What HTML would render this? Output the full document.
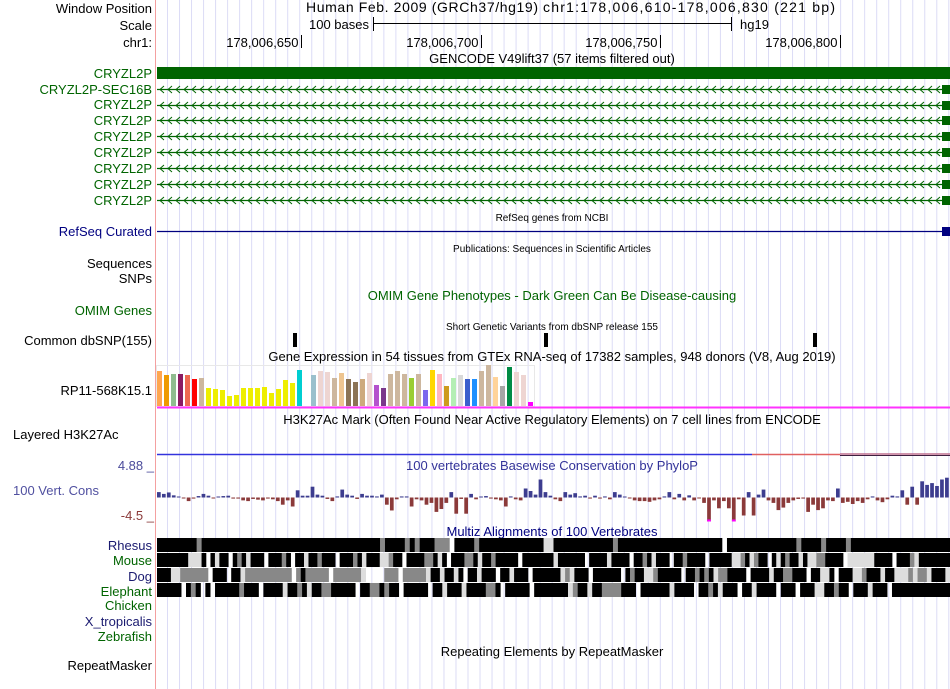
<!DOCTYPE html>
<html><head><meta charset="utf-8"><title>UCSC Genome Browser</title>
<style>
html,body{margin:0;padding:0;background:#fff;}
svg{display:block;font-family:"Liberation Sans",Arial,sans-serif;}
</style></head>
<body>
<svg id="browser" width="950" height="689" viewBox="0 0 950 689" xmlns="http://www.w3.org/2000/svg">
<g id="grid"></g>
<line x1="155.5" y1="0" x2="155.5" y2="689" stroke="#f4a0a0" stroke-width="1"/>

<g font-size="13" text-anchor="end">
<text x="152" y="13" fill="#000">Window Position</text>
<text x="152" y="30" fill="#000">Scale</text>
<text x="152" y="47" fill="#000">chr1:</text>
<text x="152" y="78" fill="#006400">CRYZL2P</text>
<text x="152" y="94" fill="#006400">CRYZL2P-SEC16B</text>
<text x="152" y="109" fill="#006400">CRYZL2P</text>
<text x="152" y="125" fill="#006400">CRYZL2P</text>
<text x="152" y="141" fill="#006400">CRYZL2P</text>
<text x="152" y="157" fill="#006400">CRYZL2P</text>
<text x="152" y="173" fill="#006400">CRYZL2P</text>
<text x="152" y="189" fill="#006400">CRYZL2P</text>
<text x="152" y="205" fill="#006400">CRYZL2P</text>
<text x="152" y="236" fill="#000080">RefSeq Curated</text>
<text x="152" y="268" fill="#000">Sequences</text>
<text x="152" y="283" fill="#000">SNPs</text>
<text x="152" y="315" fill="#006400">OMIM Genes</text>
<text x="152" y="345" fill="#000">Common dbSNP(155)</text>
<text x="152" y="395" fill="#000">RP11-568K15.1</text>
<text x="152" y="550" fill="#1a1a70">Rhesus</text>
<text x="152" y="565" fill="#006400">Mouse</text>
<text x="152" y="581" fill="#1a1a70">Dog</text>
<text x="152" y="596" fill="#006400">Elephant</text>
<text x="152" y="610" fill="#006400">Chicken</text>
<text x="152" y="626" fill="#1a1a70">X_tropicalis</text>
<text x="152" y="641" fill="#006400">Zebrafish</text>
<text x="152" y="670" fill="#000">RepeatMasker</text>
<text x="154" y="470" fill="#4b4b9b">4.88 _</text>
<text x="154" y="520" fill="#8b3a3a">-4.5 _</text>
</g>
<text x="13" y="439" font-size="13" fill="#000">Layered H3K27Ac</text>
<text x="13" y="495" font-size="13" fill="#5050a0">100 Vert. Cons</text>

<text x="306" y="12" font-size="14" textLength="232" lengthAdjust="spacing" fill="#000">Human Feb. 2009 (GRCh37/hg19)</text>
<text x="543" y="12" font-size="14" textLength="292" lengthAdjust="spacing" fill="#000">chr1:178,006,610-178,006,830 (221 bp)</text>
<g text-anchor="middle">
<text x="552" y="63" font-size="13" fill="#000">GENCODE V49lift37 (57 items filtered out)</text>
<text x="552" y="221" font-size="10" fill="#000">RefSeq genes from NCBI</text>
<text x="552" y="252" font-size="10" fill="#000">Publications: Sequences in Scientific Articles</text>
<text x="552" y="300" font-size="13" fill="#006400">OMIM Gene Phenotypes - Dark Green Can Be Disease-causing</text>
<text x="552" y="330" font-size="10" fill="#000">Short Genetic Variants from dbSNP release 155</text>
<text x="552" y="361" font-size="13" fill="#000">Gene Expression in 54 tissues from GTEx RNA-seq of 17382 samples, 948 donors (V8, Aug 2019)</text>
<text x="552" y="424" font-size="13" fill="#000">H3K27Ac Mark (Often Found Near Active Regulatory Elements) on 7 cell lines from ENCODE</text>
<text x="552" y="470" font-size="13" fill="#333399">100 vertebrates Basewise Conservation by PhyloP</text>
<text x="552" y="536" font-size="13" fill="#000080">Multiz Alignments of 100 Vertebrates</text>
<text x="552" y="656" font-size="13" fill="#000">Repeating Elements by RepeatMasker</text>
</g>

<g>
<text x="369" y="29" font-size="13" text-anchor="end">100 bases</text>
<line x1="373.5" y1="17" x2="373.5" y2="31" stroke="#000"/>
<line x1="373.5" y1="23.5" x2="731.5" y2="23.5" stroke="#000"/>
<line x1="731.5" y1="17" x2="731.5" y2="31" stroke="#000"/>
<text x="740" y="29" font-size="13">hg19</text>
</g>
<g id="ruler"></g>
<g id="genes"></g>
<g id="refseq">
<line x1="157" y1="231.5" x2="943" y2="231.5" stroke="#000080" stroke-width="1.3"/>
<rect x="942" y="227" width="8" height="9" fill="#000080"/>
</g>
<g id="snps"></g>
<g id="gtex"></g>
<g id="h3k27ac">
<line x1="157" y1="454.5" x2="752" y2="454.5" stroke="#3333dd" stroke-width="1.5"/>
<line x1="752" y1="454.5" x2="840" y2="454.5" stroke="#e06060" stroke-width="1.5"/>
<line x1="840" y1="454" x2="950" y2="454" stroke="#c07090" stroke-width="1.5"/>
<line x1="840" y1="455.5" x2="950" y2="455.5" stroke="#402040" stroke-width="1"/>
</g>
<g id="phylop"></g>
<g id="multiz"></g>
</svg>
<script>
// ---- data ----
const rulerTicks = [178006650, 178006700, 178006750, 178006800];
const rulerLabels = ["178,006,650", "178,006,700", "178,006,750", "178,006,800"];
const windowStart = 178006610;
const windowEnd = 178006830;
const snpPositions = [178006648, 178006718, 178006793];
const gtexValues = [35,31,32,32,31,27,28,18,17,16,10,11,18,18,18,19,13,17,26,23,36,0,31,35,34,28,33,27,24,27,33,21,18,32,35,32,28,32,16,36,32,20,28,31,27,27,35,41,29,20,39,34,31,4];
const gtexColors = ["#FFA54F","#EE9A00","#8FBC8F","#8B1C62","#EE6A50","#FF0000","#CDB79E","#EEEE00","#EEEE00","#EEEE00","#EEEE00","#EEEE00","#EEEE00","#EEEE00","#EEEE00","#EEEE00","#EEEE00","#EEEE00","#EEEE00","#EEEE00","#00CED1","#FFFFFF","#9AC0CD","#EED5D2","#EED5D2","#CDB79E","#EEC591","#8B7355","#8B7355","#CDAA7D","#EED5D2","#B452CD","#7A378B","#CDB79E","#CDB79E","#CDB79E","#9ACD32","#CDB79E","#7B68EE","#FFD700","#FFB6C1","#CD9B1D","#B4EEB4","#D9D9D9","#3A5FCD","#1E90FF","#CDB79E","#CDB79E","#FFD39B","#A6A6A6","#008B45","#EED5D2","#EED5D2","#FF00FF"];
const phylopValues = [1.5,1.0,1.4,0.6,0.2,-0.2,-1.0,-0.3,0.4,1.0,0.5,-0.2,0.2,0.4,0.5,-0.3,-0.3,-0.8,-1.0,-0.4,
 -0.6,-0.8,-0.3,-0.5,-1.0,-2.0,-0.8,-2.5,2.0,0.5,0.5,3.0,0.8,0.5,-0.4,-1.0,0.3,2.2,0.8,0.5,
 -0.4,1.0,0.5,0.5,0.3,0.8,-2.0,-3.6,-0.5,0.3,0.3,-2.5,-0.5,-0.8,-2.0,-1.5,-4.0,-3.2,-1.5,1.5,
 -4.5,-0.4,-4.5,1.0,-0.5,0.2,0.4,-0.3,-0.5,-0.8,-2.5,0.3,-0.5,-0.8,2.5,1.8,0.8,5.0,1.5,0.5,
 -0.5,-1.0,1.5,0.8,1.2,0.3,0.5,-0.3,0.5,-0.3,0.3,-0.5,1.5,0.8,0.2,-0.2,-0.8,-1.0,-1.0,-1.2,
 -0.8,-0.5,0.3,1.5,-0.5,1.0,-0.8,0.6,-0.8,-0.2,-1.5,-7.0,-0.8,-3.0,-1.0,-3.0,-8.5,-0.5,-5.0,1.5,
 -5.0,0.8,2.2,-0.8,-1.5,-3.5,-2.8,-1.5,-0.8,-0.4,-0.3,-4.0,-2.0,-3.5,-3.0,-0.8,-1.0,2.5,-1.5,-1.2,
 -1.8,-1.0,-1.5,-0.5,0.3,-0.8,-1.3,-0.5,0.5,0.3,2.0,-2.0,3.0,-2.0,4.5,3.5,4.0,3.2,5.0,5.5];
const multizSpecies = ["rhesus","mouse","dog","elephant"];
const rhesusRuns = "k8 g1 k36 g1 k4 g1 k1 g1 k3 g3 .1 k4 g1 k13 l2 k12 g1 k21 .1 k14 g1 k4 g1 k4 g1 k20";
const mouseRuns = "k7 l3 k1 .1 k1 l1 k2 .1 k1 g1 k1 l1 k3 .1 k3 g1 k1 .1 k2 l1 k2 g1 k3 .1 k3 g1 k1 l1 k3 l2 g1 k2 .1 k4 g2 k1 l1 k1 .1 k3 g2 k1 l1 k2 g1 k5 .1 k7 l1 k6 .1 k4 l1 k4 .1 k2 g1 k1 l1 k3 .1 k2 g1 k4 .1 k5 l2 g1 k1 l1 g1 k2 .1 k1 l1 k1 g1 k2 l1 k1 l2 g2 k4 .1 l6 k4 .1 k3 g1 l1 k7";
const dogRuns = "k3 l2 g6 .1 k3 .1 k2 l1 g10 .1 g1 k1 g5 .1 g6 l1 .4 g3 .1 g5 l1 k2 l1 k2 l1 k1 .1 k2 l1 k3 .1 k2 l1 k3 .1 k6 l1 g1 l1 k3 .1 k6 .1 k1 g1 k2 l2 g1 k5 .1 k2 g1 k1 g1 k1 l1 g2 k4 .1 k4 l1 k2 g2 k3 .1 k2 l2 k1 .1 k3 l2 g1 k3 l1 k2 l3 g1 l1 g2 l1 k3 l1";
const elephantRuns = "k5 .1 k1 g1 k1 .1 k1 .1 k5 g1 k3 .1 k4 l1 k2 g1 k1 l1 k2 g2 k5 .1 k2 g2 k1 g1 k2 .1 k5 .1 k2 l1 k3 l1 k4 g2 k1 .1 k5 .1 k7 l1 g1 k2 l1 k2 g4 k3 .1 k6 l1 k4 .1 k2 g1 k1 l1 k3 .1 k2 l1 k4 .1 k3 .1 k3 l2 k2 g1 k2 .1 k3 l1 k3 .1 k12";

// ---- helpers ----
const NS = "http://www.w3.org/2000/svg";
const plotLeft = 157, plotRight = 950;
function mk(tag, attrs, parent) {
  const e = document.createElementNS(NS, tag);
  for (const k in attrs) e.setAttribute(k, attrs[k]);
  parent.appendChild(e);
  return e;
}
function xPos(base) { return plotLeft + (base - windowStart + 0.5) / (windowEnd - windowStart + 1) * (plotRight - plotLeft) - 1; }

// grid
const grid = document.getElementById('grid');
for (let x = 167.5; x < 950; x += 12.02) {
  const l = mk('line', {x1: x, y1: 0, x2: x, y2: 689, stroke: '#dcdcf6', 'stroke-width': 1}, grid);
  
  
}

// ruler
const ruler = document.getElementById('ruler');
rulerTicks.forEach((t, i) => {
  const x = Math.round(xPos(t)) + 0.5;
  const l = mk('line', {x1: x, y1: 35, x2: x, y2: 48, stroke: '#000'}, ruler);
  
  
  const tx = mk('text', {x: x - 3, y: 47, 'font-size': 13, 'text-anchor': 'end'}, ruler);
  tx.textContent = rulerLabels[i];
  
  
});

// genes
const genes = document.getElementById('genes');
const thick = mk('rect', {x: 157, y: 67, width: 793, height: 12, fill: '#006400'}, genes);


const rowYs = [89, 105, 120, 136, 152, 168, 184, 200];
rowYs.forEach((y) => {
  const g = mk('g', {}, genes);
  
  
  mk('line', {x1: 157, y1: y + 0.5, x2: 943, y2: y + 0.5, stroke: '#006400', 'stroke-width': 1.2}, g);
  let d = '';
  for (let x = 160; x < 938; x += 8) d += `M${x + 4},${y - 3} L${x},${y + 0.5} L${x + 4},${y + 4} `;
  mk('path', {d: d, stroke: '#006400', fill: 'none', 'stroke-width': 1}, g);
  mk('rect', {x: 942, y: y - 4, width: 8, height: 9, fill: '#006400'}, g);
});

// snps
const snps = document.getElementById('snps');
snpPositions.forEach((p) => {
  const r = mk('rect', {x: Math.round(xPos(p)) - 1, y: 333, width: 4, height: 14, fill: '#000'}, snps);
  
  
});

// gtex
const gtex = document.getElementById('gtex');
mk('rect', {x: 156.5, y: 365.5, width: 378, height: 41, fill: 'none', stroke: '#e8e8e8'}, gtex);
const gtexBase = 406, gtexPitch = 7.0;
gtexValues.forEach((v, i) => {
  const r = mk('rect', {x: 157 + i * gtexPitch, y: gtexBase - v, width: 5, height: v, fill: gtexColors[i]}, gtex);
  
  
});
const mag = mk('rect', {x: 157, y: 406.5, width: 793, height: 2, fill: '#ff33ff'}, gtex);



// phylop
const phylop = document.getElementById('phylop');
const pBase = 497.5, pScale = 3.6, pMaxNeg = 24;
const pw = (plotRight - plotLeft) / phylopValues.length;
phylopValues.forEach((v, i) => {
  const x = plotLeft + i * pw;
  let h = Math.max(1, Math.abs(v) * pScale);
  let y, fill;
  if (v >= 0) { y = pBase - h; fill = '#3d3d8f'; }
  else { if (h > pMaxNeg) h = pMaxNeg; y = pBase; fill = '#8b3a3a'; }
  const r = mk('rect', {x: x, y: y, width: pw * 0.75, height: h, fill: fill}, phylop);
  
  
  if (v < 0 && Math.abs(v) * pScale > pMaxNeg) {
    const c = mk('rect', {x: x, y: pBase + pMaxNeg - 2, width: pw * 0.75, height: 2, fill: '#ff00ff'}, phylop);
    
    
  }
});

// multiz
const multiz = document.getElementById('multiz');
const shades = {k: '#000000', g: '#888888', l: '#dddddd', '.': '#ffffff'};
const runsList = [rhesusRuns, mouseRuns, dogRuns, elephantRuns];
const rowTop = [538, 553, 568, 583];
runsList.forEach((runs, ri) => {
  const parts = runs.trim().split(/\s+/).map(s => [s[0], parseInt(s.slice(1))]);
  const total = parts.reduce((a, p) => a + p[1], 0);
  const cw = (plotRight - plotLeft) / total;
  let c = 0;
  const g = mk('g', {}, multiz);
  
  
  parts.forEach(([s, n]) => {
    if (s !== '.') mk('rect', {x: plotLeft + c * cw, y: rowTop[ri], width: n * cw + 0.3, height: 14, fill: shades[s]}, g);
    c += n;
  });
});
</script>
</body></html>
